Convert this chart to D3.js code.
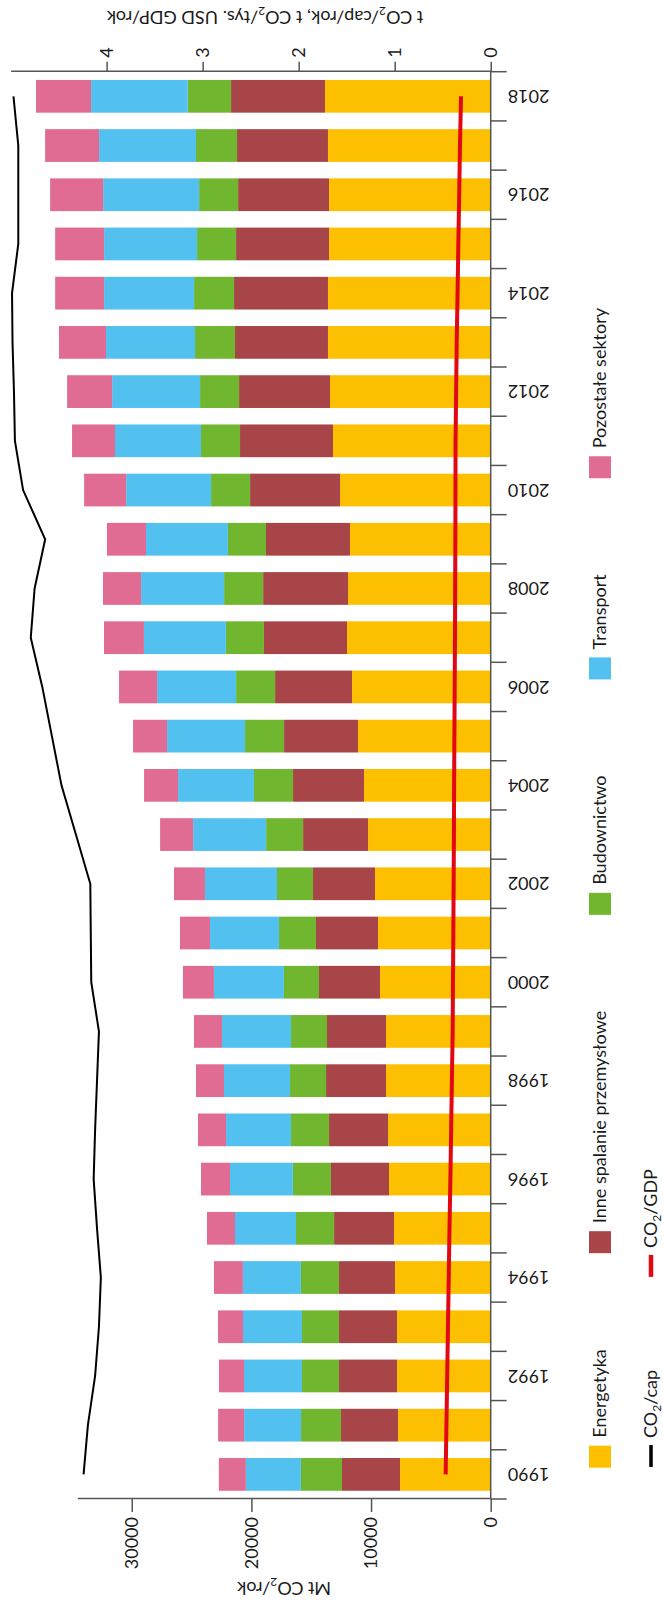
<!DOCTYPE html>
<html lang="pl">
<head>
<meta charset="UTF-8">
<title>Emisje CO2 wg sektorów</title>
<style>
  body { margin: 0; background: #fff; }
  svg { display: block; }
  text { font-family: Lato, "Open Sans", sans-serif; font-size: 18px; fill: #1a1a1a; }
  .axis path, .axis line { stroke: #555; stroke-width: 1.5; }
</style>
</head>
<body>
<div id="chart"></div>
<script src="https://cdn.jsdelivr.net/npm/d3@7"></script>
<script>
// values (Mt CO2/rok, t/cap, t/tys. USD)
const years = [1990, 1991, 1992, 1993, 1994, 1995, 1996, 1997, 1998, 1999, 2000, 2001, 2002, 2003, 2004,
               2005, 2006, 2007, 2008, 2009, 2010, 2011, 2012, 2013, 2014, 2015, 2016, 2017, 2018];
const energetyka = [7580, 7750, 7830, 7830, 8000, 8080, 8500, 8580, 8750, 8750, 9250, 9420, 9670, 10250, 10590,
                    11090, 11590, 12010, 11920, 11760, 12590, 13180, 13430, 13600, 13600, 13510, 13510, 13600, 13850];
const inneSpalanie = [4850, 4760, 4850, 4850, 4680, 5010, 4850, 4930, 5010, 4930, 5100, 5180, 5180, 5430, 5930,
                      6180, 6430, 6940, 7100, 7020, 7520, 7770, 7600, 7770, 7850, 7770, 7600, 7600, 7850];
const budownictwo = [3430, 3340, 3090, 3090, 3180, 3180, 3180, 3180, 3010, 3010, 2930, 3090, 3010, 3090, 3260,
                     3260, 3260, 3180, 3260, 3180, 3260, 3260, 3260, 3340, 3340, 3260, 3260, 3430, 3620];
const transport = [4600, 4760, 4850, 4930, 4850, 5100, 5260, 5430, 5520, 5770, 5850, 5770, 6020, 6100, 6350,
                   6520, 6600, 6850, 6940, 6850, 7100, 7190, 7350, 7440, 7520, 7770, 8020, 8100, 8080];
const pozostale = [2260, 2170, 2090, 2090, 2420, 2340, 2420, 2340, 2340, 2340, 2590, 2510, 2590, 2760, 2840,
                   2840, 3180, 3340, 3180, 3260, 3510, 3590, 3760, 3930, 4090, 4090, 4430, 4510, 4600];
const co2cap = [4.24, 4.195, 4.12, 4.08, 4.06, 4.10, 4.135, 4.12, 4.10, 4.08, 4.16, 4.165, 4.17, 4.32, 4.47,
                4.57, 4.67, 4.79, 4.75, 4.64, 4.87, 4.955, 4.965, 4.98, 4.985, 4.92, 4.92, 4.92, 4.97];
const co2gdp = [0.469, 0.461, 0.453, 0.445, 0.437, 0.429, 0.420, 0.412, 0.404, 0.396, 0.393, 0.389, 0.386, 0.383, 0.381,
                0.378, 0.375, 0.372, 0.370, 0.368, 0.367, 0.366, 0.360, 0.354, 0.345, 0.337, 0.328, 0.320, 0.309];

const sectorNames = ["Energetyka", "Inne spalanie przemysłowe", "Budownictwo", "Transport", "Pozostałe sektory"];
const sectorColors = ["#fdc000", "#a84548", "#70b62e", "#52c1ef", "#e06b93"];
const mtTicks = [0, 10000, 20000, 30000];
const capTicks = [0, 1, 2, 3, 4];

// chart is drawn landscape and then turned a quarter turn counter-clockwise
const W = 1616, H = 663;
const svg = d3.select("#chart").append("svg")
    .attr("width", H)
    .attr("height", W);
const g = svg.append("g")
    .attr("transform", `translate(0,${W}) rotate(-90)`);

const plot = { left: 117, right: 1544.3, bottom: 490.7 };

const x = d3.scaleBand()
    .domain(years)
    .range([plot.left, plot.right])
    .paddingInner(0.335)
    .paddingOuter(0.1675);
const y = d3.scaleLinear().domain([0, 34550]).range([plot.bottom, 77.3]);
const y2 = d3.scaleLinear().domain([0, 5]).range([plot.bottom, 10.6]);

const table = years.map((yr, i) => ({
    year: yr,
    s0: energetyka[i], s1: inneSpalanie[i], s2: budownictwo[i], s3: transport[i], s4: pozostale[i]
}));
const keys = ["s0", "s1", "s2", "s3", "s4"];
const series = d3.stack().keys(keys)(table);

g.append("g").selectAll("g")
    .data(series)
    .join("g")
    .attr("fill", (d, i) => sectorColors[i])
    .selectAll("rect")
    .data(d => d)
    .join("rect")
    .attr("x", d => x(d.data.year))
    .attr("width", x.bandwidth())
    .attr("y", d => y(d[1]))
    .attr("height", d => y(d[0]) - y(d[1]));

// lines
const capLine = d3.line()
    .x((d, i) => x(years[i]) + x.bandwidth() / 2)
    .y(d => y2(d));
g.append("path")
    .datum(co2cap)
    .attr("fill", "none")
    .attr("stroke", "#000")
    .attr("stroke-width", 2)
    .attr("d", capLine);
g.append("path")
    .datum(co2gdp)
    .attr("fill", "none")
    .attr("stroke", "#e30613")
    .attr("stroke-width", 4)
    .attr("d", capLine);

// left axis (Mt)
const axL = g.append("g")
    .attr("class", "axis")
    .attr("transform", `translate(${plot.left},0)`)
    .call(d3.axisLeft(y).tickValues(mtTicks).tickSize(13).tickSizeOuter(0).tickPadding(5).tickFormat(d3.format("d")));
axL.selectAll("text").style("font-size", "18px").attr("fill", "#1a1a1a");

// right axis (t/cap)
const axR = g.append("g")
    .attr("class", "axis")
    .attr("transform", `translate(${plot.right},0)`)
    .call(d3.axisRight(y2).tickValues(capTicks).tickSize(10).tickSizeOuter(0).tickPadding(4).tickFormat(d3.format("d")));
axR.selectAll("text").style("font-size", "18px").attr("fill", "#1a1a1a");

// category axis: line, ticks between bars, labels on even years
const axB = g.append("g").attr("class", "axis");
axB.append("line")
    .attr("x1", plot.left).attr("x2", plot.right)
    .attr("y1", plot.bottom).attr("y2", plot.bottom);
const bounds = years.map(yr => x(yr) - x.step() * x.paddingInner() / 2);
bounds.push(plot.right);
axB.selectAll("line.tick")
    .data(bounds)
    .join("line")
    .attr("class", "tick")
    .attr("x1", d => d).attr("x2", d => d)
    .attr("y1", plot.bottom).attr("y2", plot.bottom + 16);
axB.selectAll("text")
    .data(years.filter(yr => yr % 2 === 0))
    .join("text")
    .attr("transform", d => `translate(${x(d) + x.bandwidth() / 2},${plot.bottom + 17}) rotate(-90)`)
    .attr("text-anchor", "end")
    .attr("dy", "0.35em")
    .text(d => d);

// axis titles
function subText(sel, parts) {
    parts.forEach(p => {
        const t = sel.append("tspan").text(p[0]);
        if (p[1] === "sub") t.style("font-size", "12px").attr("dy", 4);
        if (p[1] === "back") t.attr("dy", -4);
    });
}
const t1 = g.append("text")
    .attr("transform", `translate(28,${(77.3 + plot.bottom) / 2}) rotate(-90)`)
    .attr("text-anchor", "middle")
    .attr("dy", "0.35em");
subText(t1, [["Mt CO"], ["2", "sub"], ["/rok", "back"]]);

const t2 = g.append("text")
    .attr("transform", `translate(1599,265) rotate(-90)`)
    .attr("text-anchor", "middle")
    .attr("dy", "0.35em");
subText(t2, [["t CO"], ["2", "sub"], ["/cap/rok, t CO", "back"], ["2", "sub"], ["/tys. USD GDP/rok", "back"]]);

// legend
const leg = g.append("g");
let lx = 148.3;
sectorNames.forEach((name, i) => {
    leg.append("rect")
        .attr("x", lx).attr("y", 589)
        .attr("width", 22).attr("height", 22)
        .attr("fill", sectorColors[i]);
    const t = leg.append("text")
        .attr("x", lx + 30).attr("y", 600)
        .attr("dy", "0.35em")
        .text(name);
    lx += 30 + t.node().getComputedTextLength() + 96;
});

const lineItems = [
    { parts: [["CO"], ["2", "sub"], ["/cap", "back"]], color: "#000", w: 3.5 },
    { parts: [["CO"], ["2", "sub"], ["/GDP", "back"]], color: "#e30613", w: 4.5 }
];
lx = 149;
lineItems.forEach(it => {
    leg.append("line")
        .attr("x1", lx).attr("x2", lx + 22)
        .attr("y1", 651).attr("y2", 651)
        .attr("stroke", it.color)
        .attr("stroke-width", it.w);
    const t = leg.append("text")
        .attr("x", lx + 29).attr("y", 651)
        .attr("dy", "0.35em");
    subText(t, it.parts);
    lx += 29 + t.node().getComputedTextLength() + 93;
});
</script>
</body>
</html>
